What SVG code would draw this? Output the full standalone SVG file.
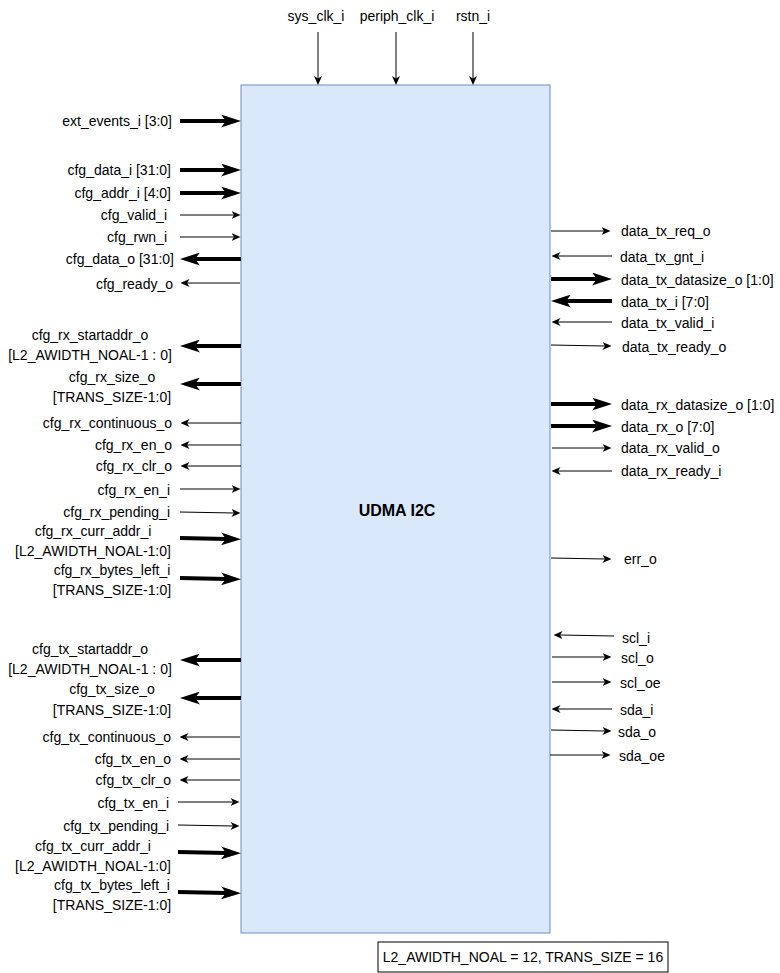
<svg xmlns="http://www.w3.org/2000/svg" width="780" height="973" viewBox="0 0 780 973">
<style>
text{font-family:"Liberation Sans",Arial,sans-serif;font-size:14px;fill:#000}
.l{text-anchor:end}.m{text-anchor:middle}.r{text-anchor:start}
.t{stroke:#000;stroke-width:1;fill:none;marker-end:url(#ah)}
.k{stroke:#000;stroke-width:4;fill:none;marker-end:url(#AH)}
</style>
<defs>
<marker id="ah" markerUnits="userSpaceOnUse" markerWidth="9" markerHeight="8" viewBox="0 0 9 8" refX="2.5" refY="4" orient="auto"><path d="M0,0 L9,4 L0,8 L2.5,4 Z" fill="#000"/></marker>
<marker id="AH" markerUnits="userSpaceOnUse" markerWidth="20" markerHeight="13" viewBox="0 0 20 13" refX="5" refY="6.5" orient="auto"><path d="M0,0 L20,6.5 L0,13 L5,6.5 Z" fill="#000"/></marker>
</defs>
<g id="udma_i2c">
<rect x="241" y="85" width="309" height="848" fill="#dae8fc" stroke="#6c8ebf" stroke-width="1"/>
<text x="397" y="516" class="m" style="font-weight:bold;font-size:16px">UDMA I2C</text>
</g>
<g id="params">
<rect x="378" y="942" width="290" height="30" fill="#fff" stroke="#000" stroke-width="1"/>
<text x="523" y="962" class="m">L2_AWIDTH_NOAL = 12, TRANS_SIZE = 16</text>
</g>
<g id="labels">
<text x="316" y="21" class="m">sys_clk_i</text>
<text x="397" y="21" class="m">periph_clk_i</text>
<text x="473" y="21" class="m">rstn_i</text>
<text x="172" y="126" class="l">ext_events_i [3:0]</text>
<text x="171" y="175" class="l">cfg_data_i [31:0]</text>
<text x="171" y="198" class="l">cfg_addr_i [4:0]</text>
<text x="167" y="220" class="l">cfg_valid_i</text>
<text x="167" y="242" class="l">cfg_rwn_i</text>
<text x="174" y="264" class="l">cfg_data_o [31:0]</text>
<text x="173" y="289" class="l">cfg_ready_o</text>
<text x="90" y="340" class="m">cfg_rx_startaddr_o</text>
<text x="90" y="360" class="m">[L2_AWIDTH_NOAL-1 : 0]</text>
<text x="112" y="382" class="m">cfg_rx_size_o</text>
<text x="112" y="402" class="m">[TRANS_SIZE-1:0]</text>
<text x="172" y="428" class="l">cfg_rx_continuous_o</text>
<text x="172" y="450" class="l">cfg_rx_en_o</text>
<text x="172" y="471" class="l">cfg_rx_clr_o</text>
<text x="170" y="495" class="l">cfg_rx_en_i</text>
<text x="170" y="517" class="l">cfg_rx_pending_i</text>
<text x="93" y="536" class="m">cfg_rx_curr_addr_i</text>
<text x="93" y="556" class="m">[L2_AWIDTH_NOAL-1:0]</text>
<text x="112" y="575" class="m">cfg_rx_bytes_left_i</text>
<text x="112" y="595" class="m">[TRANS_SIZE-1:0]</text>
<text x="90" y="654" class="m">cfg_tx_startaddr_o</text>
<text x="90" y="674" class="m">[L2_AWIDTH_NOAL-1 : 0]</text>
<text x="112" y="694" class="m">cfg_tx_size_o</text>
<text x="112" y="715" class="m">[TRANS_SIZE-1:0]</text>
<text x="171" y="742" class="l">cfg_tx_continuous_o</text>
<text x="171" y="764" class="l">cfg_tx_en_o</text>
<text x="171" y="785" class="l">cfg_tx_clr_o</text>
<text x="169" y="808" class="l">cfg_tx_en_i</text>
<text x="169" y="831" class="l">cfg_tx_pending_i</text>
<text x="93" y="851" class="m">cfg_tx_curr_addr_i</text>
<text x="93" y="871" class="m">[L2_AWIDTH_NOAL-1:0]</text>
<text x="112" y="890" class="m">cfg_tx_bytes_left_i</text>
<text x="112" y="910" class="m">[TRANS_SIZE-1:0]</text>
<text x="621" y="236" class="r">data_tx_req_o</text>
<text x="620" y="262" class="r">data_tx_gnt_i</text>
<text x="621" y="285" class="r">data_tx_datasize_o [1:0]</text>
<text x="621" y="307" class="r">data_tx_i [7:0]</text>
<text x="621" y="328" class="r">data_tx_valid_i</text>
<text x="622" y="352" class="r">data_tx_ready_o</text>
<text x="621" y="410" class="r">data_rx_datasize_o [1:0]</text>
<text x="621" y="432" class="r">data_rx_o [7:0]</text>
<text x="621" y="453" class="r">data_rx_valid_o</text>
<text x="621" y="476" class="r">data_rx_ready_i</text>
<text x="624" y="564" class="r">err_o</text>
<text x="622" y="643" class="r">scl_i</text>
<text x="621" y="663" class="r">scl_o</text>
<text x="620" y="688" class="r">scl_oe</text>
<text x="620" y="715" class="r">sda_i</text>
<text x="618" y="737" class="r">sda_o</text>
<text x="619" y="761" class="r">sda_oe</text>
</g>
<g id="connectors">
<line class="t" x1="318" y1="32" x2="318" y2="78.5"/>
<line class="t" x1="396" y1="32" x2="396" y2="78.5"/>
<line class="t" x1="473" y1="32" x2="473" y2="78.5"/>
<line class="k" x1="180" y1="121" x2="226" y2="121"/>
<line class="k" x1="180" y1="170" x2="226" y2="170"/>
<line class="k" x1="180" y1="193" x2="226" y2="193"/>
<line class="t" x1="180" y1="215" x2="234" y2="215"/>
<line class="t" x1="180" y1="237" x2="234" y2="237"/>
<line class="k" x1="241" y1="259" x2="195" y2="259"/>
<line class="t" x1="240" y1="283" x2="187" y2="283"/>
<line class="k" x1="241" y1="346" x2="195" y2="346"/>
<line class="k" x1="241" y1="384" x2="195" y2="384"/>
<line class="t" x1="241" y1="423" x2="187" y2="423"/>
<line class="t" x1="241" y1="445" x2="187" y2="445"/>
<line class="t" x1="241" y1="466" x2="187" y2="466"/>
<line class="t" x1="180" y1="489" x2="234" y2="489"/>
<line class="t" x1="180" y1="512" x2="234" y2="513"/>
<line class="k" x1="180" y1="538" x2="226" y2="539"/>
<line class="k" x1="180" y1="578" x2="226" y2="579"/>
<line class="k" x1="241" y1="660" x2="195" y2="660"/>
<line class="k" x1="241" y1="698" x2="195" y2="698"/>
<line class="t" x1="240" y1="737" x2="186" y2="737"/>
<line class="t" x1="240" y1="759" x2="186" y2="759"/>
<line class="t" x1="240" y1="780" x2="186" y2="780"/>
<line class="t" x1="178" y1="802" x2="233" y2="802"/>
<line class="t" x1="178" y1="825" x2="233" y2="826"/>
<line class="k" x1="178" y1="852" x2="226" y2="853"/>
<line class="k" x1="178" y1="892" x2="226" y2="893"/>
<line class="t" x1="551" y1="231" x2="604" y2="231"/>
<line class="t" x1="612" y1="256" x2="558" y2="256"/>
<line class="k" x1="551" y1="279" x2="597" y2="279"/>
<line class="k" x1="612" y1="301" x2="566" y2="301"/>
<line class="t" x1="612" y1="322" x2="558" y2="322"/>
<line class="t" x1="551" y1="345" x2="605" y2="346"/>
<line class="k" x1="551" y1="404" x2="597" y2="404"/>
<line class="k" x1="551" y1="426" x2="597" y2="426"/>
<line class="t" x1="552" y1="448" x2="605" y2="448"/>
<line class="t" x1="612" y1="471" x2="558" y2="471"/>
<line class="t" x1="551" y1="558" x2="605" y2="559"/>
<line class="t" x1="614" y1="636" x2="560" y2="635"/>
<line class="t" x1="552" y1="657" x2="605" y2="657"/>
<line class="t" x1="552" y1="682" x2="605" y2="682"/>
<line class="t" x1="612" y1="709" x2="558" y2="709"/>
<line class="t" x1="551" y1="730" x2="605" y2="731"/>
<line class="t" x1="550" y1="755" x2="604" y2="755"/>
</g>
</svg>
